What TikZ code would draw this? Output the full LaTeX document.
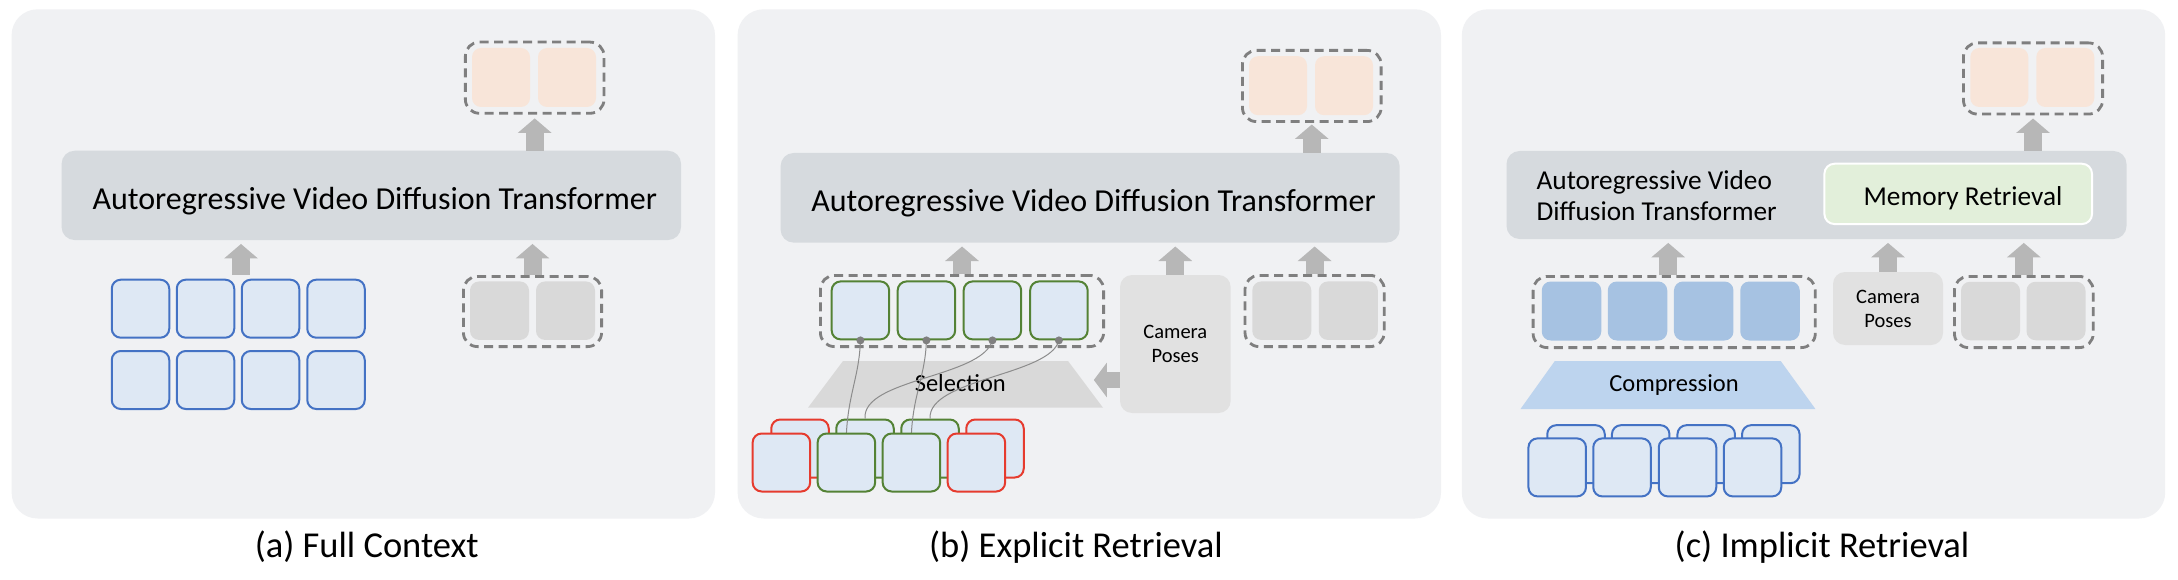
\documentclass[tikz,border=0pt]{standalone}
\usepackage{fontspec}
\setmainfont{Carlito}
\usetikzlibrary{arrows.meta}
\definecolor{panelbg}{HTML}{F0F1F3}
\definecolor{ditgray}{HTML}{D6DADE}
\definecolor{arrowgray}{HTML}{B7B7B7}
\definecolor{dashgray}{HTML}{7F7F7F}
\definecolor{framefill}{HTML}{DEE8F4}
\definecolor{frameblue}{HTML}{4472C4}
\definecolor{framegreen}{HTML}{548235}
\definecolor{framered}{HTML}{E63B2E}
\definecolor{outorange}{HTML}{F8E5D9}
\definecolor{ingray}{HTML}{D9D9D9}
\definecolor{camgray}{HTML}{E1E1E1}
\definecolor{selgray}{HTML}{D9D9D9}
\definecolor{compblue}{HTML}{BDD4EE}
\definecolor{compsq}{HTML}{A6C2E2}
\definecolor{memgreen}{HTML}{E2EFDA}
\definecolor{linkgray}{HTML}{8C8C8C}
\definecolor{dotgray}{HTML}{7F7F7F}
\begin{document}
\begin{tikzpicture}[x=1pt,y=-1pt,
  panel/.style={fill=panelbg, rounded corners=26pt, inner sep=0pt, minimum width=703.4pt, minimum height=509.2pt},
  dit/.style={fill=ditgray, rounded corners=13pt, inner sep=0pt},
  group/.style={draw=dashgray, line width=2.8pt, dash pattern=on 9pt off 5.5pt, rounded corners=14pt, inner sep=0pt},
  frame/.style={fill=framefill, line width=2pt, rounded corners=9pt, inner sep=0pt, minimum width=57.5pt, minimum height=58pt},
  bframe/.style={frame, draw=frameblue},
  gframe/.style={frame, draw=framegreen},
  rframe/.style={frame, draw=framered},
  osq/.style={fill=outorange, rounded corners=9pt, inner sep=0pt, minimum width=58pt, minimum height=59pt},
  isq/.style={fill=ingray, rounded corners=9pt, inner sep=0pt, minimum width=59pt, minimum height=58.5pt},
  csq/.style={fill=compsq, rounded corners=9pt, inner sep=0pt, minimum width=59.5pt, minimum height=59pt},
  cam/.style={fill=camgray, rounded corners=12pt, inner sep=0pt, align=center, font=\fontsize{20.5}{24}\selectfont},
  dittext/.style={anchor=base, inner sep=0pt, font=\fontsize{32}{38}\selectfont},
  ctext/.style={inner sep=0pt, font=\fontsize{27.3}{32}\selectfont},
  lab/.style={anchor=base, inner sep=0pt, font=\fontsize{24.5}{28}\selectfont},
  captext/.style={anchor=base, inner sep=0pt, font=\fontsize{36.5}{44}\selectfont},
  blk/.style={draw=arrowgray, line width=18pt, -{Triangle[width=33pt,length=14.5pt]}},
  blkside/.style={draw=arrowgray, line width=16pt, -{Triangle[width=34pt,length=13pt]}},
  link/.style={draw=linkgray, line width=1pt},
  dot/.style={circle, fill=dotgray, inner sep=0pt, minimum size=8pt}
]
\useasboundingbox[fill=white] (0,0) rectangle (2178,580);

% ---------- panels ----------
\node[panel] (pa) at (363.3,263.9) {};
\node[panel] (pb) at (1089.3,263.9) {};
\node[panel] (pc) at (1813.5,263.9) {};

% ================= (a) Full Context =================
\node[dit, minimum width=619.4pt, minimum height=89.3pt] (dita) at (371.3,195.4) {};
\node[dittext] (tdita) at (374.8,209.3) {Autoregressive Video Diffusion Transformer};

\node[group, minimum width=138.7pt, minimum height=71.2pt] (oa) at (534.7,77.7) {};
\node[osq] (oa1) at (501,77.5) {};
\node[osq] (oa2) at (567,77.5) {};
\draw[blk] (oa.south |- dita.north) -- ([yshift=-3.7pt]oa.south);

\node[bframe] (ga1) at (140.5,308.7) {};
\node[bframe] (ga2) at (205.5,308.7) {};
\node[bframe] (ga3) at (270.5,308.7) {};
\node[bframe] (ga4) at (336,308.7) {};
\node[bframe] (ga5) at (140.5,380) {};
\node[bframe] (ga6) at (205.5,380) {};
\node[bframe] (ga7) at (270.5,380) {};
\node[bframe] (ga8) at (336,380) {};
\coordinate (ina) at (241,275);
\draw[blk] (ina) -- ([yshift=-3.7pt]dita.south -| ina);

\node[group, minimum width=138.2pt, minimum height=70.2pt] (ia) at (532.5,311.5) {};
\node[isq] (ia1) at (499.5,310.7) {};
\node[isq] (ia2) at (565.5,310.7) {};
\draw[blk] (ia.north) -- ([yshift=-3.7pt]dita.south -| ia.north);

\node[captext] (capa) at (366.8,557) {(a) Full Context};

% ================= (b) Explicit Retrieval =================
\node[dit, minimum width=619pt, minimum height=89.6pt] (ditb) at (1090.1,197.8) {};
\node[dittext] (tditb) at (1093.6,211.9) {Autoregressive Video Diffusion Transformer};

\node[group, minimum width=138.7pt, minimum height=71.2pt] (ob) at (1311.75,86) {};
\node[osq] (ob1) at (1278,85.7) {};
\node[osq] (ob2) at (1344,85.7) {};
\draw[blk] (ob.south |- ditb.north) -- ([yshift=-1.5pt]ob.south);

\node[group, minimum width=283.2pt, minimum height=71.2pt] (gb) at (962,311) {};
\node[gframe] (gb1) at (860.4,310.4) {};
\node[gframe] (gb2) at (926.4,310.4) {};
\node[gframe] (gb3) at (992.4,310.4) {};
\node[gframe] (gb4) at (1058.9,310.4) {};
\draw[blk] (gb.north) -- ([yshift=-3.7pt]ditb.south -| gb.north);

\node[cam, minimum width=110.6pt, minimum height=138pt] (camb) at (1175.3,344) {Camera\\Poses};
\draw[blk] (camb.north) -- ([yshift=-3.7pt]ditb.south -| camb.north);

\node[group, minimum width=139.2pt, minimum height=71.2pt] (ib) at (1314.6,311) {};
\node[isq] (ib1) at (1281.8,310.7) {};
\node[isq] (ib2) at (1348.3,310.7) {};
\draw[blk] (ib.north) -- ([yshift=-3.7pt]ditb.south -| ib.north);

\fill[selgray] (843,361) -- (1068,361) -- (1103,407.7) -- (808,407.7) -- cycle;
\node[lab] (selb) at (960.3,391.7) {Selection};
\draw[blkside] ([yshift=-36pt]camb.west) -- ++(-26,0);

% memory frames (back row)
\node[rframe] (bb1) at (800,448.5) {};
\node[gframe] (bb2) at (865,448.5) {};
\node[gframe] (bb3) at (930,448.5) {};
\node[rframe] (bb4) at (995,448.5) {};
% tops of the selected front frames
\coordinate (ft2) at (846.4,433.5);
\coordinate (ft3) at (911.4,433.5);
% links
\draw[link] (gb1.south) .. controls +(-1,35) and +(2,-40) .. (ft2);
\draw[link] (gb2.south) .. controls +(-1,35) and +(2,-40) .. (ft3);
\draw[link] (gb3.south) .. controls +(-10.3,37.3) and +(-3,-40) .. (bb2.north);
\draw[link] (gb4.south) .. controls +(-9,35.3) and +(-2,-40) .. (bb3.north);
% memory frames (front row)
\node[rframe] (fb1) at (781.4,462.5) {};
\node[gframe] (fb2) at (ft2 |- 0,462.5) {};
\node[gframe] (fb3) at (ft3 |- 0,462.5) {};
\node[rframe] (fb4) at (976.4,462.5) {};
\node[dot] (db1) at (gb1.south) {};
\node[dot] (db2) at (gb2.south) {};
\node[dot] (db3) at (gb3.south) {};
\node[dot] (db4) at (gb4.south) {};

\node[captext] (capb) at (1076,557) {(b) Explicit Retrieval};

% ================= (c) Implicit Retrieval =================
\node[dit, minimum width=620pt, minimum height=88pt] (ditc) at (1816.5,195) {};
\node[ctext, anchor=base west] (tditc1) at (1536.4,189.3) {Autoregressive Video};
\node[ctext, anchor=base west] (tditc2) at (1536.4,220.7) {Diffusion Transformer};
\node[fill=memgreen, draw=white, line width=2pt, rounded corners=10pt, inner sep=0pt, minimum width=267.6pt, minimum height=60.3pt] (mem) at (1958.2,193.9) {};
\node[ctext, anchor=base] (tmem) at (1963,205) {Memory Retrieval};

\node[group, minimum width=139.2pt, minimum height=71.2pt] (oc) at (2033,78.5) {};
\node[osq] (oc1) at (1999.3,77.5) {};
\node[osq] (oc2) at (2065.3,77.5) {};
\draw[blk] (oc.south |- ditc.north) -- ([yshift=-3pt]oc.south);

\node[group, minimum width=282.2pt, minimum height=71.2pt] (gc) at (1674.2,312) {};
\node[csq] (gc1) at (1571.5,311) {};
\node[csq] (gc2) at (1637.5,311) {};
\node[csq] (gc3) at (1703.7,311) {};
\node[csq] (gc4) at (1770,311) {};
\draw[blk] ([xshift=-6pt]gc.north) -- ([xshift=-6pt,yshift=-3.7pt]ditc.south -| gc.north);

\node[cam, minimum width=110pt, minimum height=73pt] (camc) at (1888,308.5) {Camera\\Poses};
\draw[blk] (camc.north) -- ([yshift=-3.7pt]ditc.south -| camc.north);

\node[group, minimum width=138.8pt, minimum height=71.2pt] (ic) at (2023.8,312) {};
\node[isq] (ic1) at (1990.5,311) {};
\node[isq] (ic2) at (2056,311) {};
\draw[blk] (ic.north) -- ([yshift=-3.7pt]ditc.south -| ic.north);

\fill[compblue] (1554.8,361) -- (1780.7,361) -- (1815.4,409) -- (1520.5,409) -- cycle;
\node[lab] (compc) at (1674,391.5) {Compression};

\node[bframe] (bc1) at (1576,454.2) {};
\node[bframe] (bc2) at (1640.7,454.2) {};
\node[bframe] (bc3) at (1706.2,454.2) {};
\node[bframe] (bc4) at (1770.8,454.2) {};
\node[bframe] (fc1) at (1557.2,467.4) {};
\node[bframe] (fc2) at (1622,467.4) {};
\node[bframe] (fc3) at (1687.5,467.4) {};
\node[bframe] (fc4) at (1752.5,467.4) {};

\node[captext] (capc) at (1822,557) {(c) Implicit Retrieval};
\end{tikzpicture}
\end{document}
